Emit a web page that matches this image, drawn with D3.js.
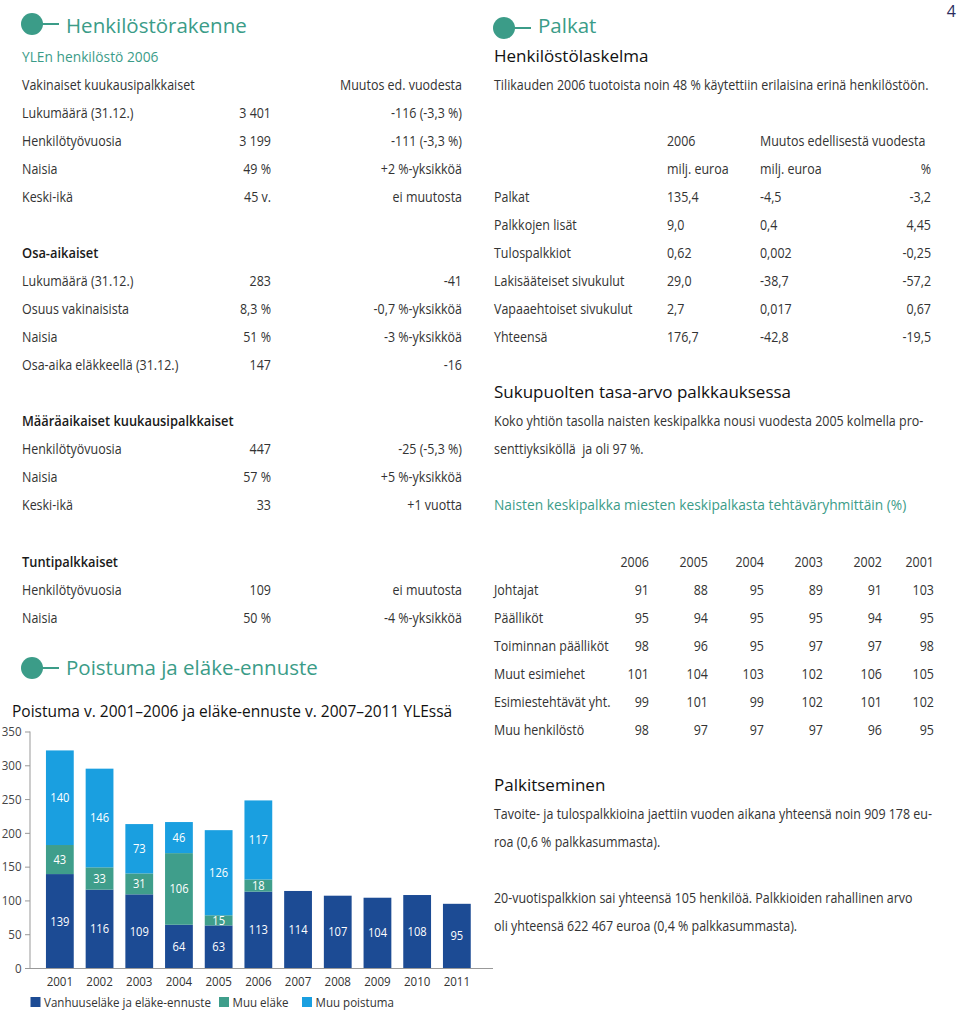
<!DOCTYPE html>
<html><head><meta charset="utf-8">
<script src="https://cdn.jsdelivr.net/npm/d3@7"></script>
<style>html,body{margin:0;padding:0;background:#fff}svg{display:block}text{white-space:pre}</style>
</head><body>
<script>
// ---------- DATA ----------
const years = ["2001","2002","2003","2004","2005","2006","2007","2008","2009","2010","2011"];
const vanhuuselake = [139,116,109,64,63,113,114,107,104,108,95];
const muuElake = [43,33,31,106,15,18,0,0,0,0,0];
const muuPoistuma = [140,146,73,46,126,117,0,0,0,0,0];
const yTicks = [0,50,100,150,200,250,300,350];
const seriesNames = ["Vanhuuseläke ja eläke-ennuste","Muu eläke","Muu poistuma"];

const vakHeader = ["Vakinaiset kuukausipalkkaiset","","Muutos ed. vuodesta"];
const vakRows = [["Lukumäärä (31.12.)","3 401","-116 (-3,3 %)"],["Henkilötyövuosia","3 199","-111 (-3,3 %)"],["Naisia","49 %","+2 %-yksikköä"],["Keski-ikä","45 v.","ei muutosta"]];
const osaRows = [["Lukumäärä (31.12.)","283","-41"],["Osuus vakinaisista","8,3 %","-0,7 %-yksikköä"],["Naisia","51 %","-3 %-yksikköä"],["Osa-aika eläkkeellä (31.12.)","147","-16"]];
const maarRows = [["Henkilötyövuosia","447","-25 (-5,3 %)"],["Naisia","57 %","+5 %-yksikköä"],["Keski-ikä","33","+1 vuotta"]];
const tuntiRows = [["Henkilötyövuosia","109","ei muutosta"],["Naisia","50 %","-4 %-yksikköä"]];

const palkatHead1 = ["2006","Muutos edellisestä vuodesta"];
const palkatHead2 = ["milj. euroa","milj. euroa","%"];
const palkatRows = [["Palkat","135,4","-4,5","-3,2"],["Palkkojen lisät","9,0","0,4","4,45"],["Tulospalkkiot","0,62","0,002","-0,25"],["Lakisääteiset sivukulut","29,0","-38,7","-57,2"],["Vapaaehtoiset sivukulut","2,7","0,017","0,67"],["Yhteensä","176,7","-42,8","-19,5"]];

const tasaYears = ["2006","2005","2004","2003","2002","2001"];
const tasaRows = [["Johtajat",[91,88,95,89,91,103]],["Päälliköt",[95,94,95,95,94,95]],["Toiminnan päälliköt",[98,96,95,97,97,98]],["Muut esimiehet",[101,104,103,102,106,105]],["Esimiestehtävät yht.",[99,101,99,102,101,102]],["Muu henkilöstö",[98,97,97,97,96,95]]];

// ---------- STYLE ----------
const TEAL = "#3b9c88", NAVY = "#1c4b94", GREEN = "#3f9e8b", LBLUE = "#1a9fe0";
const FONT = "'Open Sans','Noto Sans',sans-serif";
const BODY = "#333";

const svg = d3.select("body").append("svg").attr("width",960).attr("height",1011);

function txt(x, yc, s, o={}) {
  const fs = o.fs || 14, sx = o.sx == null ? 0.89 : o.sx;
  return svg.append("text")
    .attr("transform", `translate(${x},${yc + fs*0.36}) scale(${sx},1)`)
    .attr("font-family", FONT).attr("font-size", fs)
    .attr("font-weight", o.w || 400)
    .attr("fill", o.fill || BODY)
    .attr("text-anchor", o.anchor || "start")
    .text(s);
}
function header(cx, cy, title, tx, ty) {
  svg.append("circle").attr("cx",cx).attr("cy",cy).attr("r",11).attr("fill",TEAL);
  svg.append("line").attr("x1",cx+10).attr("x2",cx+27).attr("y1",cy).attr("y2",cy).attr("stroke",TEAL).attr("stroke-width",2);
  txt(tx, ty, title, {fs:20.5, sx:1, fill:TEAL});
}

// ---------- LEFT COLUMN ----------
header(32, 24, "Henkilöstörakenne", 66, 26);
txt(22, 57, "YLEn henkilöstö 2006", {fs:14.5, sx:0.95, fill:TEAL});
const LX = 22, VX = 271, CX = 462, STEP = 28;
function rowsBlock(rows, y0) {
  rows.forEach((r,i) => {
    const y = y0 + i*STEP;
    txt(LX, y, r[0]);
    txt(VX, y, r[1], {anchor:"end"});
    txt(CX, y, r[2], {anchor:"end"});
  });
}
txt(LX, 85, vakHeader[0]);
txt(CX, 85, vakHeader[2], {anchor:"end"});
rowsBlock(vakRows, 113);
txt(LX, 253, "Osa-aikaiset", {w:600, sx:0.92, fill:"#1a1a1a"});
rowsBlock(osaRows, 281);
txt(LX, 421, "Määräaikaiset kuukausipalkkaiset", {w:600, sx:0.92, fill:"#1a1a1a"});
rowsBlock(maarRows, 449);
txt(LX, 562, "Tuntipalkkaiset", {w:600, sx:0.92, fill:"#1a1a1a"});
rowsBlock(tuntiRows, 590);

header(32, 668, "Poistuma ja eläke-ennuste", 66, 668);
txt(12, 711, "Poistuma v. 2001–2006 ja eläke-ennuste v. 2007–2011 YLEssä", {fs:15.5, sx:1, fill:"#111"});

// ---------- CHART ----------
const y = d3.scaleLinear().domain([0,350]).range([968, 731.5]);
const x = d3.scaleBand().domain(years).range([40, 476.7]).paddingInner(0.3).paddingOuter(0.15);

const stackData = years.map((yr,i) => ({year:yr, v:vanhuuselake[i], e:muuElake[i], p:muuPoistuma[i]}));
const stack = d3.stack().keys(["v","e","p"])(stackData);
const colors = [NAVY, GREEN, LBLUE];

const gBars = svg.append("g");
stack.forEach((layer, li) => {
  gBars.selectAll(null).data(layer.filter(d => d[1]-d[0] > 0)).enter().append("rect")
    .attr("x", d => x(d.data.year)).attr("width", x.bandwidth())
    .attr("y", d => y(d[1])).attr("height", d => y(d[0]) - y(d[1]))
    .attr("fill", colors[li]);
  layer.forEach(d => {
    const val = d[1]-d[0];
    if (val > 0) {
      txt(x(d.data.year) + x.bandwidth()/2, (y(d[0])+y(d[1]))/2, String(val), {fs:12.5, anchor:"middle", fill:"#fff"});
    }
  });
});

// y axis
const yAxis = d3.axisLeft(y).tickValues(yTicks).tickSize(5).tickFormat(d3.format("d"));
const gy = svg.append("g").attr("transform","translate(30,0)").call(yAxis);
gy.select(".domain").attr("stroke","#999").attr("d","M0,731.5V968");
gy.selectAll(".tick line").attr("stroke","#999");
gy.selectAll(".tick text").remove();
yTicks.forEach(t => txt(21.5, y(t), String(t), {fs:13, anchor:"end", fill:"#444"}));

// x axis
const xAxis = d3.axisBottom(x).tickSize(0).tickFormat("");
const gx = svg.append("g").attr("transform","translate(0,968)").call(xAxis);
gx.select(".domain").attr("stroke","#999").attr("d","M30,0.5H493");
years.forEach(yr => txt(x(yr)+x.bandwidth()/2, 981, yr, {fs:13, anchor:"middle", fill:"#333"}));

// legend
const legX = [30.5, 219, 302];
seriesNames.forEach((n,i) => {
  svg.append("rect").attr("x",legX[i]).attr("y",997).attr("width",10).attr("height",10).attr("fill",colors[i]);
  txt(legX[i]+13.5, 1002, n, {fs:13, fill:"#333"});
});

// ---------- RIGHT COLUMN ----------
txt(956, 11, "4", {fs:16, sx:1, anchor:"end", fill:"#2b2b5e"});
header(504, 28, "Palkat", 538, 26);
txt(494, 56, "Henkilöstölaskelma", {fs:17, sx:1, fill:"#111"});
txt(494, 84.5, "Tilikauden 2006 tuotoista noin 48 % käytettiin erilaisina erinä henkilöstöön.");
const PX = [494, 667, 760, 931];
txt(PX[1], 141, palkatHead1[0]);
txt(PX[2], 141, palkatHead1[1]);
txt(PX[1], 169, palkatHead2[0]);
txt(PX[2], 169, palkatHead2[1]);
txt(PX[3], 169, palkatHead2[2], {anchor:"end"});
palkatRows.forEach((r,i) => {
  const yy = 197 + i*STEP;
  txt(PX[0], yy, r[0]); txt(PX[1], yy, r[1]); txt(PX[2], yy, r[2]); txt(PX[3], yy, r[3], {anchor:"end"});
});

txt(494, 392, "Sukupuolten tasa-arvo palkkauksessa", {fs:17, sx:1, fill:"#111"});
txt(494, 421, "Koko yhtiön tasolla naisten keskipalkka nousi vuodesta 2005 kolmella pro-");
txt(494, 449, "senttiyksiköllä  ja oli 97 %.");
txt(494, 505, "Naisten keskipalkka miesten keskipalkasta tehtäväryhmittäin (%)", {fs:14.5, sx:0.95, fill:TEAL});

const TX = [649, 708, 764, 823, 882, 934];
tasaYears.forEach((yr,j) => txt(TX[j], 562, yr, {anchor:"end"}));
tasaRows.forEach((r,i) => {
  const yy = 590 + i*STEP;
  txt(494, yy, r[0]);
  r[1].forEach((v,j) => txt(TX[j], yy, String(v), {anchor:"end"}));
});

txt(494, 785, "Palkitseminen", {fs:17, sx:1, fill:"#111"});
txt(494, 814, "Tavoite- ja tulospalkkioina jaettiin vuoden aikana yhteensä noin 909 178 eu-");
txt(494, 842, "roa (0,6 % palkkasummasta).");
txt(494, 898, "20-vuotispalkkion sai yhteensä 105 henkilöä. Palkkioiden rahallinen arvo");
txt(494, 926, "oli yhteensä 622 467 euroa (0,4 % palkkasummasta).");
</script>
</body></html>
